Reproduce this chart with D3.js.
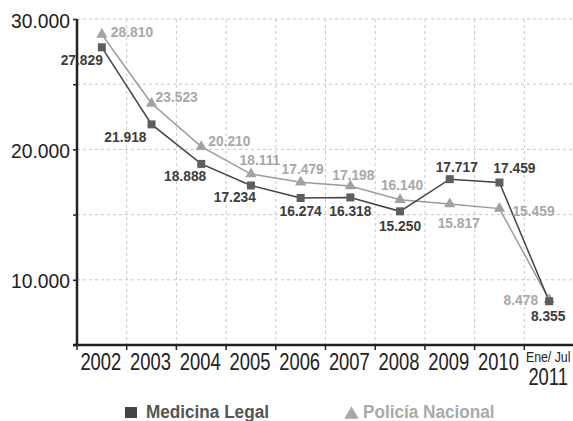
<!DOCTYPE html>
<html>
<head>
<meta charset="utf-8">
<script src="https://cdn.jsdelivr.net/npm/d3@7"></script>
<style>
  body { margin: 0; background: #fff; }
  svg text { font-family: "Liberation Sans", Arial, sans-serif; }
</style>
</head>
<body>
<div id="chart"></div>
<script>
// ---------------  DATA  ---------------
const years = ["2002", "2003", "2004", "2005", "2006", "2007", "2008", "2009", "2010", "Ene/ Jul 2011"];
const medicinaLegal = [27829, 21918, 18888, 17234, 16274, 16318, 15250, 17717, 17459, 8355];
const policiaNacional = [28810, 23523, 20210, 18111, 17479, 17198, 16140, 15817, 15459, 8478];
const yTicks = [5000, 10000, 15000, 20000, 25000, 30000];
const yLabelled = [10000, 20000, 30000];

// label placement around each point: [dx, dy, anchor]
const mlPlace = [[1, 18, "end"], [-5, 18, "end"], [5, 17, "end"], [5, 17, "end"], [0, 18, "middle"],
  [0, 19, "middle"], [0, 20, "middle"], [7, -7, "middle"], [15, -10, "middle"], [-1, 20, "middle"]];
const pnPlace = [[9, 2, "start"], [4, -1, "start"], [7, -1, "start"], [9, -9, "middle"], [2, -8, "middle"],
  [3, -6, "middle"], [2, -10, "middle"], [9, 24, "middle"], [13, 7, "start"], [-11, 5, "end"]];

const w = 573, h = 421;
const padLeft = 77, padRight = 574, padTop = 19, padBottom = 345;

const es = d3.formatLocale({ decimal: ",", thousands: ".", grouping: [3], currency: ["", ""] });
const fmt = es.format(",");

// condensed look: squeeze text horizontally
function squeeze(sel, f) {
  sel.each(function () {
    const len = this.getComputedTextLength();
    d3.select(this).attr("textLength", len * f).attr("lengthAdjust", "spacingAndGlyphs");
  });
}

// ---------------  SCALES  ---------------
const x = d3.scaleBand().domain(years).range([padLeft, padRight]);
const y = d3.scaleLinear().domain([5000, 30000]).range([padBottom, padTop]);
const cx = (d) => x(d) + x.bandwidth() / 2;

const svg = d3.select("#chart").append("svg").attr("width", w).attr("height", h);

// ---------------  GRID  ---------------
svg.append("g")
  .selectAll("line")
  .data(yTicks.filter((t) => t > 5000))
  .enter()
  .append("line")
  .attr("x1", padLeft).attr("x2", w)
  .attr("y1", (d) => y(d)).attr("y2", (d) => y(d))
  .attr("stroke", "#c8c8c8").attr("stroke-dasharray", "3,3");

svg.append("g")
  .selectAll("line")
  .data(years.slice(1))
  .enter()
  .append("line")
  .attr("x1", (d) => x(d)).attr("x2", (d) => x(d))
  .attr("y1", padTop).attr("y2", padBottom)
  .attr("stroke", "#c8c8c8").attr("stroke-dasharray", "3,3");

// ---------------  AXES  ---------------
const yAxis = svg.append("g")
  .attr("transform", "translate(" + padLeft + ",0)")
  .call(d3.axisLeft(y).tickValues(yTicks).tickSize(4).tickPadding(3)
    .tickFormat((d) => (yLabelled.includes(d) ? fmt(d) : "")));
yAxis.select(".domain").attr("stroke", "#222").attr("stroke-width", 2.5)
  .attr("d", "M0," + padTop + "V" + padBottom);
yAxis.selectAll(".tick line").attr("stroke", "#222").attr("stroke-width", 1.5);
yAxis.selectAll(".tick text")
  .attr("fill", "#222")
  .style("font-size", "20.5px")
  .attr("dy", "8px")
  .call(squeeze, 0.94);

// x axis line + boundary ticks
svg.append("line")
  .attr("x1", padLeft - 4).attr("x2", w)
  .attr("y1", padBottom).attr("y2", padBottom)
  .attr("stroke", "#222").attr("stroke-width", 2.7);

svg.append("g")
  .selectAll("line")
  .data(years)
  .enter()
  .append("line")
  .attr("x1", (d) => x(d)).attr("x2", (d) => x(d))
  .attr("y1", padBottom).attr("y2", padBottom + 5)
  .attr("stroke", "#222").attr("stroke-width", 1.5);

// x labels: split "Ene/ Jul 2011" onto two lines, narrow via scaleX
const xLines = [];
years.forEach((d) => {
  const parts = d.split(" ");
  if (parts.length > 2) {
    xLines.push({ cat: d, text: parts[0] + " " + parts[1], y: 362, size: 14, sx: 0.88, dx: -1 });
    xLines.push({ cat: d, text: parts[2], y: 385, size: 23, sx: 0.8, dx: -1 });
  } else {
    xLines.push({ cat: d, text: d, y: 370, size: 23, sx: 0.8, dx: -1 });
  }
});

svg.append("g")
  .selectAll("text")
  .data(xLines)
  .enter()
  .append("text")
  .attr("transform", (d) => "translate(" + (cx(d.cat) + d.dx) + "," + d.y + ") scale(" + d.sx + ",1)")
  .attr("text-anchor", "middle")
  .attr("fill", "#222")
  .style("font-size", (d) => d.size + "px")
  .text((d) => d.text);

// ---------------  LINES  ---------------
const line = (vals) => d3.line().x((d, i) => cx(years[i])).y((d) => y(d))(vals);

svg.append("path").attr("d", line(policiaNacional))
  .attr("fill", "none").attr("stroke", "#9b9b9b").attr("stroke-width", 1.5);
svg.append("path").attr("d", line(medicinaLegal))
  .attr("fill", "none").attr("stroke", "#444").attr("stroke-width", 1.5);

// triangles
svg.append("g")
  .selectAll("path")
  .data(policiaNacional)
  .enter()
  .append("path")
  .attr("d", d3.symbol().type(d3.symbolTriangle).size(55))
  .attr("transform", (d, i) => "translate(" + cx(years[i]) + "," + y(d) + ")")
  .attr("fill", "#a2a2a2");

// squares
svg.append("g")
  .selectAll("rect")
  .data(medicinaLegal)
  .enter()
  .append("rect")
  .attr("x", (d, i) => cx(years[i]) - 4)
  .attr("y", (d) => y(d) - 4)
  .attr("width", 8).attr("height", 8)
  .attr("fill", "#5e5e5e");

// ---------------  VALUE LABELS  ---------------
svg.append("g")
  .selectAll("text")
  .data(policiaNacional)
  .enter()
  .append("text")
  .attr("x", (d, i) => cx(years[i]) + pnPlace[i][0])
  .attr("y", (d, i) => y(d) + pnPlace[i][1])
  .attr("text-anchor", (d, i) => pnPlace[i][2])
  .attr("fill", "#a8a8a8")
  .style("font-size", "15px").style("font-weight", "bold")
  .text((d) => fmt(d))
  .call(squeeze, 0.92);

svg.append("g")
  .selectAll("text")
  .data(medicinaLegal)
  .enter()
  .append("text")
  .attr("x", (d, i) => cx(years[i]) + mlPlace[i][0])
  .attr("y", (d, i) => y(d) + mlPlace[i][1])
  .attr("text-anchor", (d, i) => mlPlace[i][2])
  .attr("fill", "#3c3c3c")
  .style("font-size", "15px").style("font-weight", "bold")
  .text((d) => fmt(d))
  .call(squeeze, 0.92);

// ---------------  LEGEND  ---------------
svg.append("rect").attr("x", 125).attr("y", 407).attr("width", 12).attr("height", 11).attr("fill", "#444");
svg.append("text").attr("x", 146).attr("y", 418).attr("fill", "#555")
  .style("font-size", "17.5px").style("font-weight", "bold")
  .text("Medicina Legal")
  .call(squeeze, 0.98);
svg.append("path")
  .attr("d", d3.symbol().type(d3.symbolTriangle).size(90))
  .attr("transform", "translate(351.5,414.5)")
  .attr("fill", "#a8a8a8");
svg.append("text").attr("x", 363).attr("y", 418).attr("fill", "#aaa")
  .style("font-size", "17.5px").style("font-weight", "bold")
  .text("Policía Nacional")
  .call(squeeze, 0.98);
</script>
</body>
</html>
